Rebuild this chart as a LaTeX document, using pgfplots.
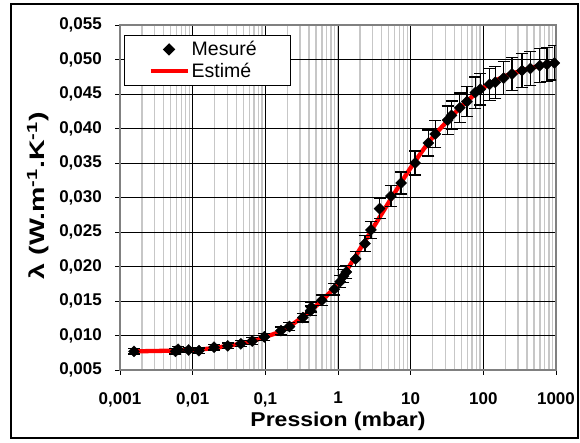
\documentclass[border=0pt]{standalone}
\usepackage{fontspec}
\setmainfont{Liberation Sans}
\usepackage{pgfplots}
\pgfplotsset{compat=1.18}

\begin{document}
\begin{tikzpicture}
\begin{axis}[
    name=ax,
    scale only axis,
    width=436pt, height=345pt,
    xmode=log,
    xmin=0.001, xmax=1000,
    ymin=0.005, ymax=0.055,
    xtick={0.001,0.01,0.1,1,10,100,1000},
    xticklabels={{0,001},{0,01},{0,1},1,10,100,1000},
    ytick={0.005,0.010,...,0.0551},
    scaled y ticks=false,
    /pgf/number format/fixed,
    /pgf/number format/fixed zerofill,
    /pgf/number format/precision=3,
    /pgf/number format/use comma,
    /pgf/number format/assume math mode=true,
    tick label style={font=\bfseries\fontsize{17}{17}\selectfont},
    yticklabel style={anchor=east, inner sep=0pt, xshift=-13pt},
    xticklabel style={anchor=north, inner sep=0pt, yshift=-17pt},
    grid=both,
    major grid style={black, line width=0.8pt},
    minor grid style={black!22, line width=1.4pt},
    axis line style={black!50, line width=1.2pt},
    tick align=outside,
    tick pos=left,
    major tick length=5pt,
    minor tick length=0pt,
    tick style={black, line width=0.8pt},
    xlabel={\scalebox{1.15}[1]{\bfseries Pression (mbar)}},
    xlabel style={font=\fontsize{20}{20}\selectfont, at={(axis description cs:0.5,-0.165)}, anchor=base},
    ylabel={\scalebox{1.36}[1]{\bfseries λ (W.m\textsuperscript{-1}.K\textsuperscript{-1})}},
    ylabel style={font=\fontsize{21}{21}\selectfont, at={(axis description cs:-0.188,0.505)}, anchor=center},
    legend style={at={(axis description cs:0.009,0.971)}, anchor=north west,
        draw=black, line width=1pt, fill=white,
        font=\fontsize{19.5}{19.5}\selectfont, inner xsep=24pt, inner ysep=4pt,
        row sep=2pt},
    legend cell align=left,
    legend image code/.code={\draw[mark repeat=2,mark phase=2,#1] plot coordinates {(0pt,0pt) (18.5pt,0pt) (37pt,0pt)};},
    reverse legend,
]
% courbe estimee
\addplot[red, line width=4.3pt, smooth] coordinates {
    (0.0015,0.0077) (0.005,0.0078) (0.01,0.0079) (0.02,0.0082)
    (0.05,0.0089) (0.1,0.0098) (0.2,0.0111) (0.5,0.0143)
    (1,0.0176) (2,0.0225) (5,0.0293) (10,0.0343) (20,0.0387)
    (50,0.0432) (100,0.0459) (200,0.0476) (500,0.0489) (1000,0.0496)
};
\addlegendentry{Estimé}
% points mesures
\addplot[only marks, mark=square*, mark size=3.9pt, mark options={rotate=45}, black,
    error bars/.cd, y dir=both, y fixed relative=0.05,
    error bar style={black, line width=1.2pt},
    error mark options={black, rotate=90, line width=1.2pt, mark size=6pt}]
coordinates {
    (0.00156,0.0077) (0.0058,0.0077) (0.0063,0.0080) (0.0088,0.0079)
    (0.0122,0.0078) (0.0197,0.0083) (0.0304,0.0085) (0.046,0.0088)
    (0.066,0.0092) (0.097,0.0098) (0.164,0.0107) (0.215,0.0113)
    (0.328,0.0126) (0.42,0.0136) (0.43,0.0141) (0.60,0.0151)
    (0.89,0.0167) (1.07,0.0178) (1.19,0.0186) (1.30,0.0192)
    (1.75,0.0211) (2.35,0.0233) (2.84,0.0253) (3.73,0.0284)
    (5.35,0.0302) (7.38,0.0321) (11.5,0.0350) (17.5,0.0379)
    (21.8,0.0392) (32.2,0.0412) (36.5,0.0419) (47.5,0.0430)
    (59.5,0.0439) (77.6,0.0452) (91,0.0457) (122,0.0464)
    (146,0.0467) (190,0.0473) (248,0.0479) (341,0.0484)
    (444,0.0487) (597,0.0491) (754,0.0493) (950,0.0495)
};
\addlegendentry{Mesuré\hspace*{8pt}}
\end{axis}
% cadre exterieur
\draw[black, line width=1.2pt] (ax.south west) ++(-109pt,-68pt) rectangle ++(567pt,434pt);
\path (ax.south west) ++(-120pt,-73pt) rectangle ++(580pt,443pt);
\end{tikzpicture}
\end{document}
